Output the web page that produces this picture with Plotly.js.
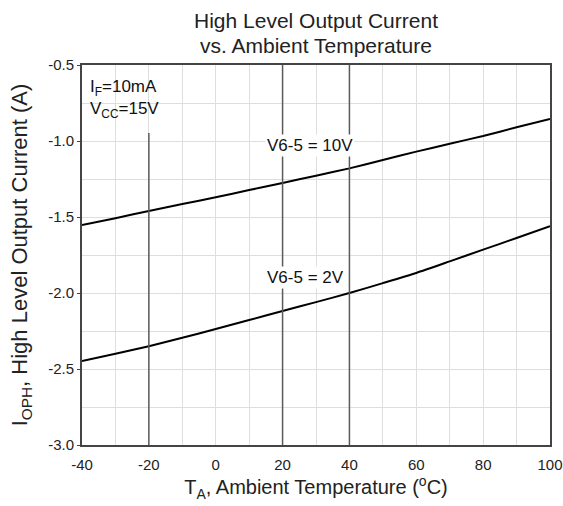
<!DOCTYPE html>
<html>
<head>
<meta charset="utf-8">
<script src="https://cdn.plot.ly/plotly-3.0.1.min.js"></script>
<style>html,body{margin:0;padding:0;background:#fff;}#chart{width:563px;height:506px;}</style>
</head>
<body>
<div id="chart"></div>
<script>
// Ambient temperature (°C)
const temps = [-40, -30, -20, -10, 0, 10, 20, 30, 40, 50, 60, 70, 80, 90, 100];
// I_OPH (A) for V6-5 = 10V
const iop10V = [-1.553, -1.508, -1.46, -1.415, -1.37, -1.323, -1.276, -1.228, -1.18, -1.125, -1.07, -1.018, -0.967, -0.91, -0.855];
// I_OPH (A) for V6-5 = 2V
const iop2V = [-2.447, -2.4, -2.35, -2.295, -2.237, -2.178, -2.118, -2.06, -2.0, -1.935, -1.868, -1.792, -1.715, -1.638, -1.56];
const xTicks = [-40, -20, 0, 20, 40, 60, 80, 100];
const xTickText = ["-40", "-20", "0", "20", "40", "60", "80", "100"];
const yTicks = [-0.5, -1.0, -1.5, -2.0, -2.5, -3.0];
const yTickText = ["-0.5", "-1.0", "-1.5", "-2.0", "-2.5", "-3.0"];
// highlighted temperature markers
const markTemps = [-20, 20, 40];
const markTops = [-0.947, -0.5, -0.5];
const titleLines = ["High Level Output Current", "vs. Ambient Temperature"];

const FONT = "Arial, 'Liberation Sans', sans-serif";

const traces = [
  {x: temps, y: iop10V, mode: "lines", line: {color: "#000", width: 2, shape: "spline", smoothing: 0.6}, name: "V6-5 = 10V"},
  {x: temps, y: iop2V, mode: "lines", line: {color: "#000", width: 2, shape: "spline", smoothing: 0.6}, name: "V6-5 = 2V"}
];

const shapes = markTemps.map((t, i) => ({
  type: "line", xref: "x", yref: "y", x0: t, x1: t, y0: -3.0, y1: markTops[i],
  line: {color: "#5a5a5a", width: 1.5}, layer: "above"
}));

const layout = {
  width: 563, height: 506,
  margin: {l: 82, r: 13, t: 65, b: 61},
  paper_bgcolor: "#fff", plot_bgcolor: "#fff",
  showlegend: false,
  font: {family: FONT, color: "#222", size: 14},
  xaxis: {
    range: [-40, 100], tickvals: xTicks, ticktext: xTickText,
    showgrid: true, gridcolor: "#dedede", gridwidth: 1,
    minor: {dtick: 10, showgrid: true, gridcolor: "#dedede", gridwidth: 1},
    showline: true, linecolor: "#444", linewidth: 2, mirror: true,
    ticks: "", zeroline: false, ticklabelstandoff: 5,
    tickfont: {family: FONT, size: 15, color: "#222"},
    title: {text: "T<sub>A</sub>, Ambient Temperature (<sup>o</sup>C)", font: {family: FONT, size: 20, color: "#222"}, standoff: 4}
  },
  yaxis: {
    range: [-3.0, -0.5], tickvals: yTicks, ticktext: yTickText,
    showgrid: true, gridcolor: "#dedede", gridwidth: 1,
    minor: {dtick: 0.25, showgrid: true, gridcolor: "#dedede", gridwidth: 1},
    showline: true, linecolor: "#444", linewidth: 2, mirror: true,
    ticks: "outside", ticklen: 3, tickcolor: "#444", zeroline: false,
    tickfont: {family: FONT, size: 15, color: "#222"},
    title: {text: "I<sub>OPH</sub>, High Level Output Current (A)", font: {family: FONT, size: 22, color: "#222"}, standoff: 14}
  },
  shapes: shapes,
  annotations: [
    {xref: "paper", yref: "paper", x: 0.5, y: 1.118, yanchor: "middle", text: titleLines[0], showarrow: false,
     font: {family: FONT, size: 21, color: "#222"}},
    {xref: "paper", yref: "paper", x: 0.5, y: 1.05, yanchor: "middle", text: titleLines[1], showarrow: false,
     font: {family: FONT, size: 21, color: "#222"}},
    {xref: "x", yref: "y", x: 28.2, y: -1.03, text: "V6-5 = 10V", showarrow: false, bgcolor: "#fff",
     font: {family: FONT, size: 17, color: "#111"}},
    {xref: "x", yref: "y", x: 27, y: -1.90, text: "V6-5 = 2V", showarrow: false, bgcolor: "#fff",
     font: {family: FONT, size: 17, color: "#111"}},
    {xref: "paper", yref: "paper", x: 0.012, y: 0.975, xanchor: "left", yanchor: "top", align: "left",
     text: "I<sub>F</sub>=10mA<br>V<sub>CC</sub>=15V", showarrow: false,
     font: {family: FONT, size: 17, color: "#111"}}
  ]
};

Plotly.newPlot("chart", traces, layout, {displayModeBar: false, staticPlot: true});
</script>
</body>
</html>
